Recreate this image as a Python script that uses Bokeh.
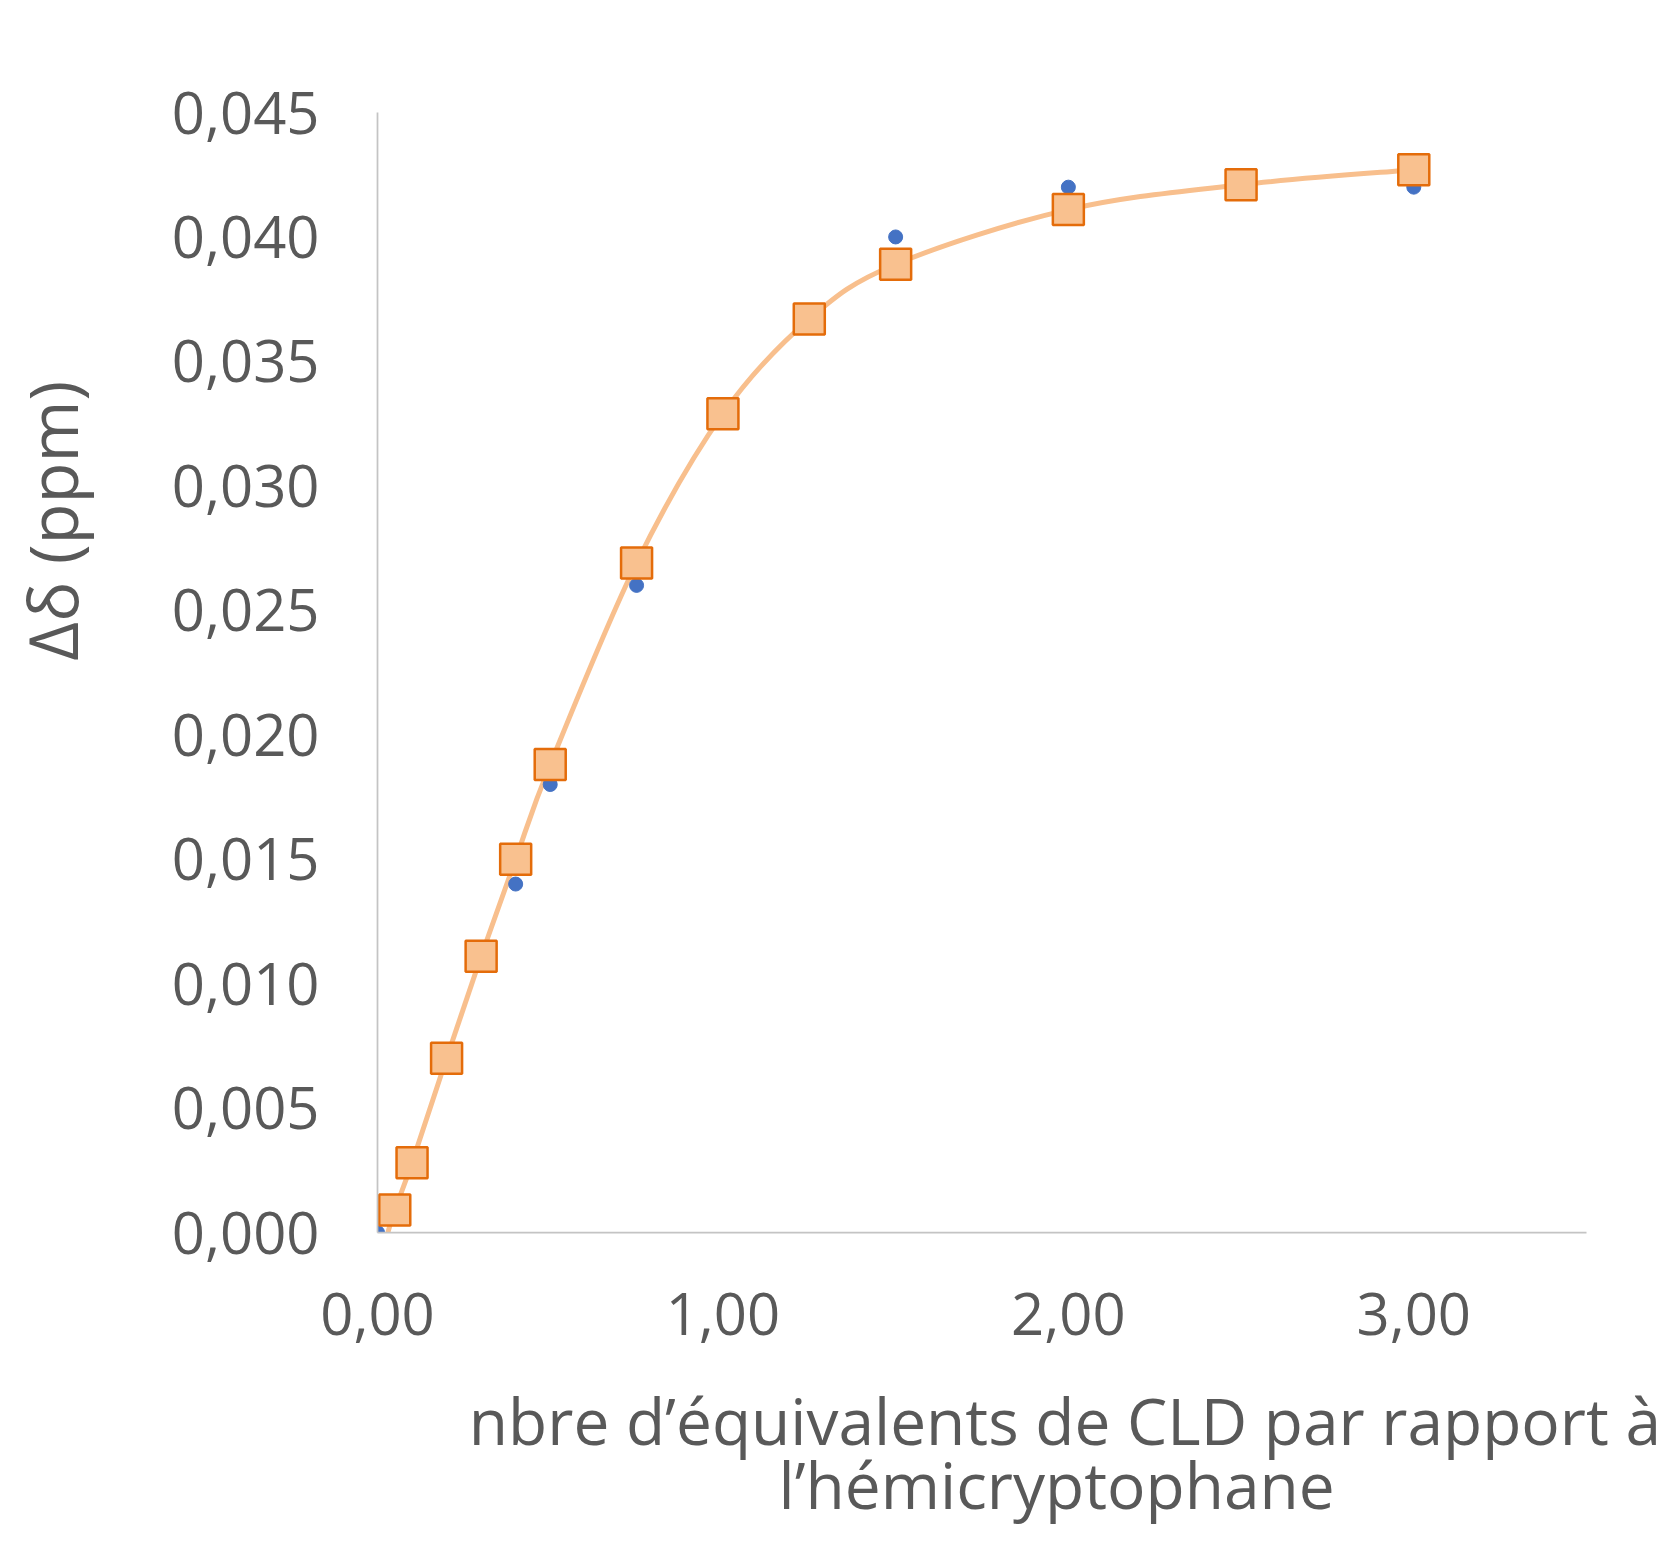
import numpy as np
from bokeh.plotting import figure
from bokeh.models import FixedTicker, Label
from bokeh.embed import file_html
from bokeh.resources import INLINE

# ---- data ----
exp_x = [0.0, 0.05, 0.1, 0.2, 0.3, 0.4, 0.5, 0.75, 1.0, 1.25, 1.5, 2.0, 2.5, 3.0]
exp_y = [0.000, 0.001, 0.003, 0.007, 0.011, 0.014, 0.018, 0.026, 0.033, 0.037, 0.040, 0.042, 0.042, 0.042]

fit_x = [0.05, 0.1, 0.2, 0.3, 0.4, 0.5, 0.75, 1.0, 1.25, 1.5, 2.0, 2.5, 3.0]
fit_y = [0.0009, 0.0028, 0.0070, 0.0111, 0.0150, 0.0188, 0.0269, 0.0329, 0.0367, 0.0389, 0.0411, 0.0421, 0.0427]

# start of the smoothed fit curve (it reaches the x axis)
curve_start_x = [0.03]
curve_start_y = [0.0]

x_ticks = [0, 1, 2, 3]
x_tick_labels = ["0,00", "1,00", "2,00", "3,00"]
y_ticks = [0.0, 0.005, 0.01, 0.015, 0.02, 0.025, 0.03, 0.035, 0.04, 0.045]
y_tick_labels = ["0,000", "0,005", "0,010", "0,015", "0,020", "0,025", "0,030", "0,035", "0,040", "0,045"]

x_title_1 = "nbre d\u2019\u00e9quivalents de CLD par rapport \u00e0"
x_title_2 = "l\u2019h\u00e9micryptophane"
y_title = "\u0394\u03b4 (ppm)"

FONT = "Open Sans"
TXT = "#595959"

p = figure(frame_width=1209, frame_height=1120, output_backend="svg", toolbar_location=None,
           x_range=(0, 3.5), y_range=(0, 0.045),
           min_border_left=377, min_border_right=84, min_border_top=112, min_border_bottom=300)
p.outline_line_color = None
p.xgrid.visible = False
p.ygrid.visible = False
p.background_fill_color = "white"
p.border_fill_color = "white"

for ax in (p.xaxis[0], p.yaxis[0]):
    ax.axis_line_color = "#C4C4C4"
    ax.axis_line_width = 1.75
    ax.major_tick_line_color = None
    ax.minor_tick_line_color = None
    ax.major_tick_out = 0
    ax.major_tick_in = 0
    ax.minor_tick_out = 0
    ax.minor_tick_in = 0
    ax.major_label_text_font = FONT
    ax.major_label_text_font_size = "58px"
    ax.major_label_text_color = TXT

p.xaxis[0].ticker = FixedTicker(ticks=x_ticks)
p.xaxis[0].major_label_overrides = {t: l for t, l in zip(x_ticks, x_tick_labels)}
p.xaxis[0].major_label_standoff = 60
p.yaxis[0].ticker = FixedTicker(ticks=y_ticks)
p.yaxis[0].major_label_overrides = {t: l for t, l in zip(y_ticks, y_tick_labels)}
p.yaxis[0].major_label_standoff = 58

# smoothed curve through fit points (Catmull-Rom -> cubic Bezier)
cx = np.array(curve_start_x + fit_x, dtype=float)
cy = np.array(curve_start_y + fit_y, dtype=float)
n = len(cx)
px = np.concatenate([[cx[0]], cx, [cx[-1]]])
py = np.concatenate([[cy[0]], cy, [cy[-1]]])
x0 = cx[:-1]; y0 = cy[:-1]; x1 = cx[1:]; y1 = cy[1:]
c1x = px[1:n] + (px[2:n+1] - px[0:n-1]) / 6.0
c1y = py[1:n] + (py[2:n+1] - py[0:n-1]) / 6.0
c2x = px[2:n+1] - (px[3:n+2] - px[1:n]) / 6.0
c2y = py[2:n+1] - (py[3:n+2] - py[1:n]) / 6.0
p.bezier(x0=x0, y0=y0, x1=x1, y1=y1, cx0=c1x, cy0=c1y, cx1=c2x, cy1=c2y,
         line_color="#F8BF8D", line_width=5)

p.scatter(exp_x, exp_y, marker="circle", size=14, fill_color="#4472C4", line_color="#4472C4")
p.scatter(fit_x, fit_y, marker="square", size=31, fill_color="#F9C18F",
          line_color="#E46C0A", line_width=2.5)

# axis titles, placed outside the frame (side panels are not clipped)
l1 = Label(x=1.99, y=-0.00756, text=x_title_1,
           text_font=FONT, text_font_size="64px", text_color=TXT,
           text_align="center", text_baseline="alphabetic")
l2 = Label(x=1.966, y=-0.01013, text=x_title_2,
           text_font=FONT, text_font_size="64px", text_color=TXT,
           text_align="center", text_baseline="alphabetic")
p.add_layout(l1, "below")
p.add_layout(l2, "below")

ly = Label(x=-0.942, y=0.0286, text=y_title, angle=np.pi / 2,
           text_font=FONT, text_font_size="67px", text_color=TXT,
           text_align="center", text_baseline="middle")
p.add_layout(ly, "left")

open("out.html", "w").write(file_html(p, INLINE))
